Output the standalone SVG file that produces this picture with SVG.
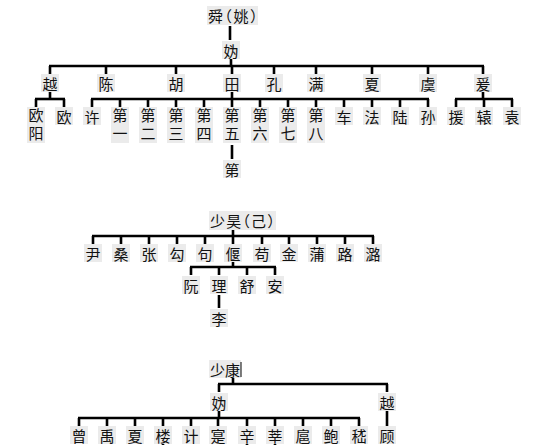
<svg xmlns="http://www.w3.org/2000/svg" width="554" height="445" viewBox="0 0 554 445">
<style>
text{font-family:"Noto Sans CJK SC","Noto Sans CJK TC",sans-serif;font-size:15px;fill:#111;text-anchor:middle;dominant-baseline:central}
text.v{writing-mode:vertical-rl;text-anchor:start;letter-spacing:3px}
text.p{text-anchor:start;font-feature-settings:"halt" 1}
.bg{fill:#ebebeb}
.c line{stroke:#000;stroke-width:2.6}
.cur{stroke:#000;stroke-width:1}
</style>
<rect width="554" height="445" fill="#fff"/>
<g class="c" id="connectors">
<line x1="230" y1="26" x2="230" y2="40"/>
<line x1="231" y1="58" x2="231" y2="66"/>
<line x1="49" y1="66" x2="484" y2="66"/>
<line x1="50" y1="66" x2="50" y2="74"/><line x1="106" y1="66" x2="106" y2="74"/><line x1="176" y1="66" x2="176" y2="74"/><line x1="232" y1="66" x2="232" y2="74"/><line x1="274" y1="66" x2="274" y2="74"/><line x1="316" y1="66" x2="316" y2="74"/><line x1="372" y1="66" x2="372" y2="74"/><line x1="428" y1="66" x2="428" y2="74"/><line x1="483" y1="66" x2="483" y2="74"/>
<line x1="50" y1="92" x2="50" y2="99"/>
<line x1="35" y1="99" x2="65" y2="99"/>
<line x1="36" y1="99" x2="36" y2="107"/><line x1="64" y1="99" x2="64" y2="107"/>
<line x1="232" y1="92" x2="232" y2="99"/>
<line x1="91" y1="99" x2="429" y2="99"/>
<line x1="92" y1="99" x2="92" y2="107"/><line x1="120" y1="99" x2="120" y2="107"/><line x1="148" y1="99" x2="148" y2="107"/><line x1="176" y1="99" x2="176" y2="107"/><line x1="204" y1="99" x2="204" y2="107"/><line x1="232" y1="99" x2="232" y2="107"/><line x1="260" y1="99" x2="260" y2="107"/><line x1="288" y1="99" x2="288" y2="107"/><line x1="316" y1="99" x2="316" y2="107"/><line x1="344" y1="99" x2="344" y2="107"/><line x1="372" y1="99" x2="372" y2="107"/><line x1="400" y1="99" x2="400" y2="107"/><line x1="428" y1="99" x2="428" y2="107"/>
<line x1="483" y1="92" x2="483" y2="99"/>
<line x1="455" y1="99" x2="513" y2="99"/>
<line x1="456" y1="99" x2="456" y2="107"/><line x1="484" y1="99" x2="484" y2="107"/><line x1="512" y1="99" x2="512" y2="107"/>
<line x1="232" y1="145" x2="232" y2="159"/>
<line x1="233" y1="228" x2="233" y2="236"/>
<line x1="92" y1="236" x2="374" y2="236"/>
<line x1="93" y1="236" x2="93" y2="244"/><line x1="121" y1="236" x2="121" y2="244"/><line x1="149" y1="236" x2="149" y2="244"/><line x1="177" y1="236" x2="177" y2="244"/><line x1="205" y1="236" x2="205" y2="244"/><line x1="233" y1="236" x2="233" y2="244"/><line x1="262" y1="236" x2="262" y2="244"/><line x1="289" y1="236" x2="289" y2="244"/><line x1="317" y1="236" x2="317" y2="244"/><line x1="345" y1="236" x2="345" y2="244"/><line x1="373" y1="236" x2="373" y2="244"/>
<line x1="233" y1="262" x2="233" y2="267"/>
<line x1="190" y1="267" x2="276" y2="267"/>
<line x1="191" y1="267" x2="191" y2="275"/><line x1="219" y1="267" x2="219" y2="275"/><line x1="247" y1="267" x2="247" y2="275"/><line x1="275" y1="267" x2="275" y2="275"/>
<line x1="219" y1="295" x2="219" y2="308"/>
<line x1="233" y1="378" x2="233" y2="384"/>
<line x1="218" y1="384" x2="388" y2="384"/>
<line x1="219" y1="384" x2="219" y2="392"/><line x1="387" y1="384" x2="387" y2="392"/>
<line x1="219" y1="410" x2="219" y2="418"/>
<line x1="78" y1="418" x2="360" y2="418"/>
<line x1="79" y1="418" x2="79" y2="426"/><line x1="107" y1="418" x2="107" y2="426"/><line x1="135" y1="418" x2="135" y2="426"/><line x1="163" y1="418" x2="163" y2="426"/><line x1="191" y1="418" x2="191" y2="426"/><line x1="218" y1="418" x2="218" y2="426"/><line x1="247" y1="418" x2="247" y2="426"/><line x1="275" y1="418" x2="275" y2="426"/><line x1="303" y1="418" x2="303" y2="426"/><line x1="331" y1="418" x2="331" y2="426"/><line x1="359" y1="418" x2="359" y2="426"/>
<line x1="387" y1="410" x2="387" y2="427"/>
<line x1="163" y1="443" x2="163" y2="445"/><line x1="247" y1="443" x2="247" y2="445"/><line x1="275" y1="443" x2="275" y2="445"/>
</g>
<g id="n-shun"><rect class="bg" x="207" y="6" width="51" height="19"/><text class="p" x="208" y="15" style="letter-spacing:1.5px">舜（姚）</text></g>
<g id="n-gui1"><rect class="bg" x="222" y="41" width="18" height="18"/><text x="231" y="50">妫</text></g>
<g id="n-yue1"><rect class="bg" x="41" y="74" width="18" height="18"/><text x="50" y="83">越</text></g>
<g id="n-chen"><rect class="bg" x="97" y="74" width="18" height="18"/><text x="106" y="83">陈</text></g>
<g id="n-hu"><rect class="bg" x="167" y="74" width="18" height="18"/><text x="176" y="83">胡</text></g>
<g id="n-tian"><rect class="bg" x="223" y="74" width="18" height="18"/><text x="232" y="83">田</text></g>
<g id="n-kong"><rect class="bg" x="265" y="74" width="18" height="18"/><text x="274" y="83">孔</text></g>
<g id="n-man"><rect class="bg" x="307" y="74" width="18" height="18"/><text x="316" y="83">满</text></g>
<g id="n-xia1"><rect class="bg" x="363" y="74" width="18" height="18"/><text x="372" y="83">夏</text></g>
<g id="n-yu"><rect class="bg" x="419" y="74" width="18" height="18"/><text x="428" y="83">虞</text></g>
<g id="n-yuan"><rect class="bg" x="474" y="74" width="18" height="18"/><text x="483" y="83">爰</text></g>
<g id="n-ouyang"><rect class="bg" x="27" y="107" width="18" height="36"/><text class="v" x="36" y="108">欧阳</text></g>
<g id="n-ou"><rect class="bg" x="55" y="107" width="18" height="18"/><text x="64" y="116">欧</text></g>
<g id="n-xu"><rect class="bg" x="83" y="107" width="18" height="18"/><text x="92" y="116">许</text></g>
<g id="n-d1"><rect class="bg" x="111" y="107" width="18" height="36"/><text class="v" x="120" y="108">第一</text></g>
<g id="n-d2"><rect class="bg" x="139" y="107" width="18" height="36"/><text class="v" x="148" y="108">第二</text></g>
<g id="n-d3"><rect class="bg" x="167" y="107" width="18" height="36"/><text class="v" x="176" y="108">第三</text></g>
<g id="n-d4"><rect class="bg" x="195" y="107" width="18" height="36"/><text class="v" x="204" y="108">第四</text></g>
<g id="n-d5"><rect class="bg" x="223" y="107" width="18" height="36"/><text class="v" x="232" y="108">第五</text></g>
<g id="n-d6"><rect class="bg" x="251" y="107" width="18" height="36"/><text class="v" x="260" y="108">第六</text></g>
<g id="n-d7"><rect class="bg" x="279" y="107" width="18" height="36"/><text class="v" x="288" y="108">第七</text></g>
<g id="n-d8"><rect class="bg" x="307" y="107" width="18" height="36"/><text class="v" x="316" y="108">第八</text></g>
<g id="n-che"><rect class="bg" x="335" y="107" width="18" height="18"/><text x="344" y="116">车</text></g>
<g id="n-fa"><rect class="bg" x="363" y="107" width="18" height="18"/><text x="372" y="116">法</text></g>
<g id="n-lu1"><rect class="bg" x="391" y="107" width="18" height="18"/><text x="400" y="116">陆</text></g>
<g id="n-sun"><rect class="bg" x="419" y="107" width="18" height="18"/><text x="428" y="116">孙</text></g>
<g id="n-yuan2"><rect class="bg" x="447" y="107" width="18" height="18"/><text x="456" y="116">援</text></g>
<g id="n-yuan3"><rect class="bg" x="475" y="107" width="18" height="18"/><text x="484" y="116">辕</text></g>
<g id="n-yuan4"><rect class="bg" x="503" y="107" width="18" height="18"/><text x="512" y="116">袁</text></g>
<g id="n-di"><rect class="bg" x="223" y="160" width="18" height="18"/><text x="232" y="169">第</text></g>
<g id="n-shaohao"><rect class="bg" x="209" y="211" width="67" height="19"/><text class="p" x="210" y="220" style="letter-spacing:1.2px">少昊（己）</text></g>
<g id="n-yin"><rect class="bg" x="84" y="244" width="18" height="18"/><text x="93" y="253">尹</text></g>
<g id="n-sang"><rect class="bg" x="112" y="244" width="18" height="18"/><text x="121" y="253">桑</text></g>
<g id="n-zhang"><rect class="bg" x="140" y="244" width="18" height="18"/><text x="149" y="253">张</text></g>
<g id="n-gou1"><rect class="bg" x="168" y="244" width="18" height="18"/><text x="177" y="253">勾</text></g>
<g id="n-gou2"><rect class="bg" x="196" y="244" width="18" height="18"/><text x="205" y="253">句</text></g>
<g id="n-yan"><rect class="bg" x="224" y="244" width="18" height="18"/><text x="233" y="253">偃</text></g>
<g id="n-gou3"><rect class="bg" x="253" y="244" width="18" height="18"/><text x="262" y="253">苟</text></g>
<g id="n-jin"><rect class="bg" x="280" y="244" width="18" height="18"/><text x="289" y="253">金</text></g>
<g id="n-pu"><rect class="bg" x="308" y="244" width="18" height="18"/><text x="317" y="253">蒲</text></g>
<g id="n-lu2"><rect class="bg" x="336" y="244" width="18" height="18"/><text x="345" y="253">路</text></g>
<g id="n-lu3"><rect class="bg" x="364" y="244" width="18" height="18"/><text x="373" y="253">潞</text></g>
<g id="n-ruan"><rect class="bg" x="182" y="276" width="18" height="18"/><text x="191" y="285">阮</text></g>
<g id="n-li1"><rect class="bg" x="210" y="276" width="18" height="18"/><text x="219" y="285">理</text></g>
<g id="n-shu"><rect class="bg" x="238" y="276" width="18" height="18"/><text x="247" y="285">舒</text></g>
<g id="n-an"><rect class="bg" x="266" y="276" width="18" height="18"/><text x="275" y="285">安</text></g>
<g id="n-li2"><rect class="bg" x="210" y="309" width="18" height="18"/><text x="219" y="318">李</text></g>
<g id="n-shaokang"><rect class="bg" x="209" y="360" width="32" height="18"/><text x="225" y="369">少康</text><line class="cur" x1="241" y1="362" x2="241" y2="377"/></g>
<g id="n-gui2"><rect class="bg" x="210" y="393" width="18" height="18"/><text x="219" y="402">妫</text></g>
<g id="n-yue2"><rect class="bg" x="378" y="393" width="18" height="18"/><text x="387" y="402">越</text></g>
<g id="n-zeng"><rect class="bg" x="70" y="426" width="18" height="18"/><text x="79" y="435">曾</text></g>
<g id="n-yu2"><rect class="bg" x="98" y="426" width="18" height="18"/><text x="107" y="435">禹</text></g>
<g id="n-xia2"><rect class="bg" x="126" y="426" width="18" height="18"/><text x="135" y="435">夏</text></g>
<g id="n-lou"><rect class="bg" x="154" y="426" width="18" height="18"/><text x="163" y="435">楼</text></g>
<g id="n-ji"><rect class="bg" x="182" y="426" width="18" height="18"/><text x="191" y="435">计</text></g>
<g id="n-shi"><rect class="bg" x="209" y="426" width="18" height="18"/><text x="218" y="435">寔</text></g>
<g id="n-xin1"><rect class="bg" x="238" y="426" width="18" height="18"/><text x="247" y="435">辛</text></g>
<g id="n-xin2"><rect class="bg" x="266" y="426" width="18" height="18"/><text x="275" y="435">莘</text></g>
<g id="n-hu2"><rect class="bg" x="294" y="426" width="18" height="18"/><text x="303" y="435">扈</text></g>
<g id="n-bao"><rect class="bg" x="322" y="426" width="18" height="18"/><text x="331" y="435">鲍</text></g>
<g id="n-ji2"><rect class="bg" x="350" y="426" width="18" height="18"/><text x="359" y="435">嵇</text></g>
<g id="n-gu"><rect class="bg" x="378" y="426" width="18" height="18"/><text x="387" y="435">顾</text></g>
</svg>
